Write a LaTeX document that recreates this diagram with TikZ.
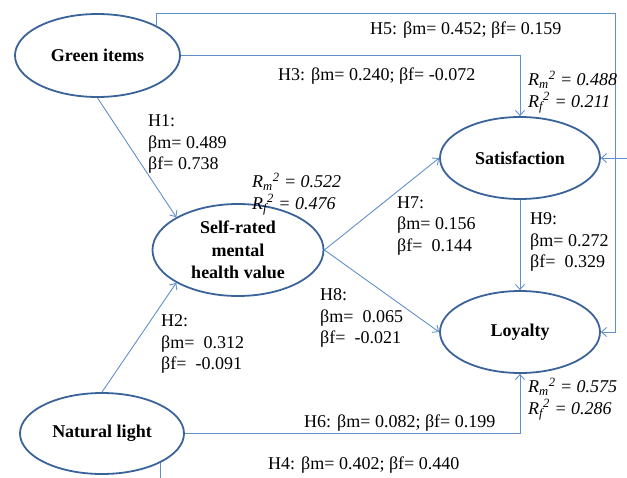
\documentclass[tikz,border=0pt]{standalone}
\usepackage{fontspec}
\setmainfont{Liberation Serif}
\usetikzlibrary{shapes.geometric,arrows.meta}
\definecolor{ellc}{HTML}{3A6399}
\definecolor{connc}{HTML}{6090CC}
\newcommand{\Rsq}[2]{\textit{R\textsubscript{#1}\textsuperscript{2} = #2}}
\begin{document}
\begin{tikzpicture}[x=1pt,y=-1pt,
  latent/.style={ellipse,draw=ellc,line width=1.8pt,inner sep=0pt,align=center,
    font=\fontsize{18}{22.5}\selectfont\bfseries},
  conn/.style={draw=connc,line width=0.9pt,-{Straight Barb[length=5pt,width=9pt]}},
  lbl/.style={anchor=west,inner sep=0pt,align=left,font=\fontsize{18}{21.5}\selectfont}]
\clip (0,0) rectangle (627,477);
\node[latent,minimum width=165pt,minimum height=83pt] (gi) at (97.5,55.5) {Green items};
\node[latent,minimum width=171pt,minimum height=92pt] (sr) at (238,250) {Self-rated\\mental\\health value};
\node[latent,minimum width=160pt,minimum height=82pt] (sat) at (520,158) {Satisfaction};
\node[latent,minimum width=160pt,minimum height=82pt] (loy) at (520,332) {Loyalty};
\node[latent,minimum width=164pt,minimum height=81pt] (nl) at (102,433.5) {Natural light};
\coordinate (h5c) at (615,13);
\coordinate (h4c) at (640,495);
\draw[conn] (gi.27) |- (h5c) |- (loy.east);
\draw[conn] (gi.east) -| (sat.north);
\draw[conn] (gi.south) -- (sr.152);
\draw[conn] (nl.north) -- (sr.208);
\draw[conn] (sr.east) -- (sat.west);
\draw[conn] (sr.east) -- (loy.west);
\draw[conn] (sat.south) -- (loy.north);
\draw[conn] (nl.east) -| (loy.south);
\draw[conn] (nl.-27) |- (h4c) |- (sat.east);
\node[lbl] (l5) at (370,30) {H5: βm= 0.452; βf= 0.159};
\node[lbl] (l3) at (278,76) {H3: βm= 0.240; βf= -0.072};
\node[lbl] (rsat) at (528,92) {\Rsq{m}{0.488}\\\Rsq{f}{0.211}};
\node[lbl] (l1) at (148,144) {H1:\\βm= 0.489\\βf= 0.738};
\node[lbl] (rsr) at (252,194) {\Rsq{m}{0.522}\\\Rsq{f}{0.476}};
\node[lbl] (l7) at (397,226) {H7:\\βm= 0.156\\βf=\ \ 0.144};
\node[lbl] (l9) at (530,242) {H9:\\βm= 0.272\\βf=\ \ 0.329};
\node[lbl] (l2) at (161,344) {H2:\\βm=\ \ 0.312\\βf=\ \ -0.091};
\node[lbl] (l8) at (320,318) {H8:\\βm=\ \ 0.065\\βf=\ \ -0.021};
\node[lbl] (rloy) at (528,399) {\Rsq{m}{0.575}\\\Rsq{f}{0.286}};
\node[lbl] (l6) at (304,423) {H6: βm= 0.082; βf= 0.199};
\node[lbl] (l4) at (268,465) {H4: βm= 0.402; βf= 0.440};
\end{tikzpicture}
\end{document}
